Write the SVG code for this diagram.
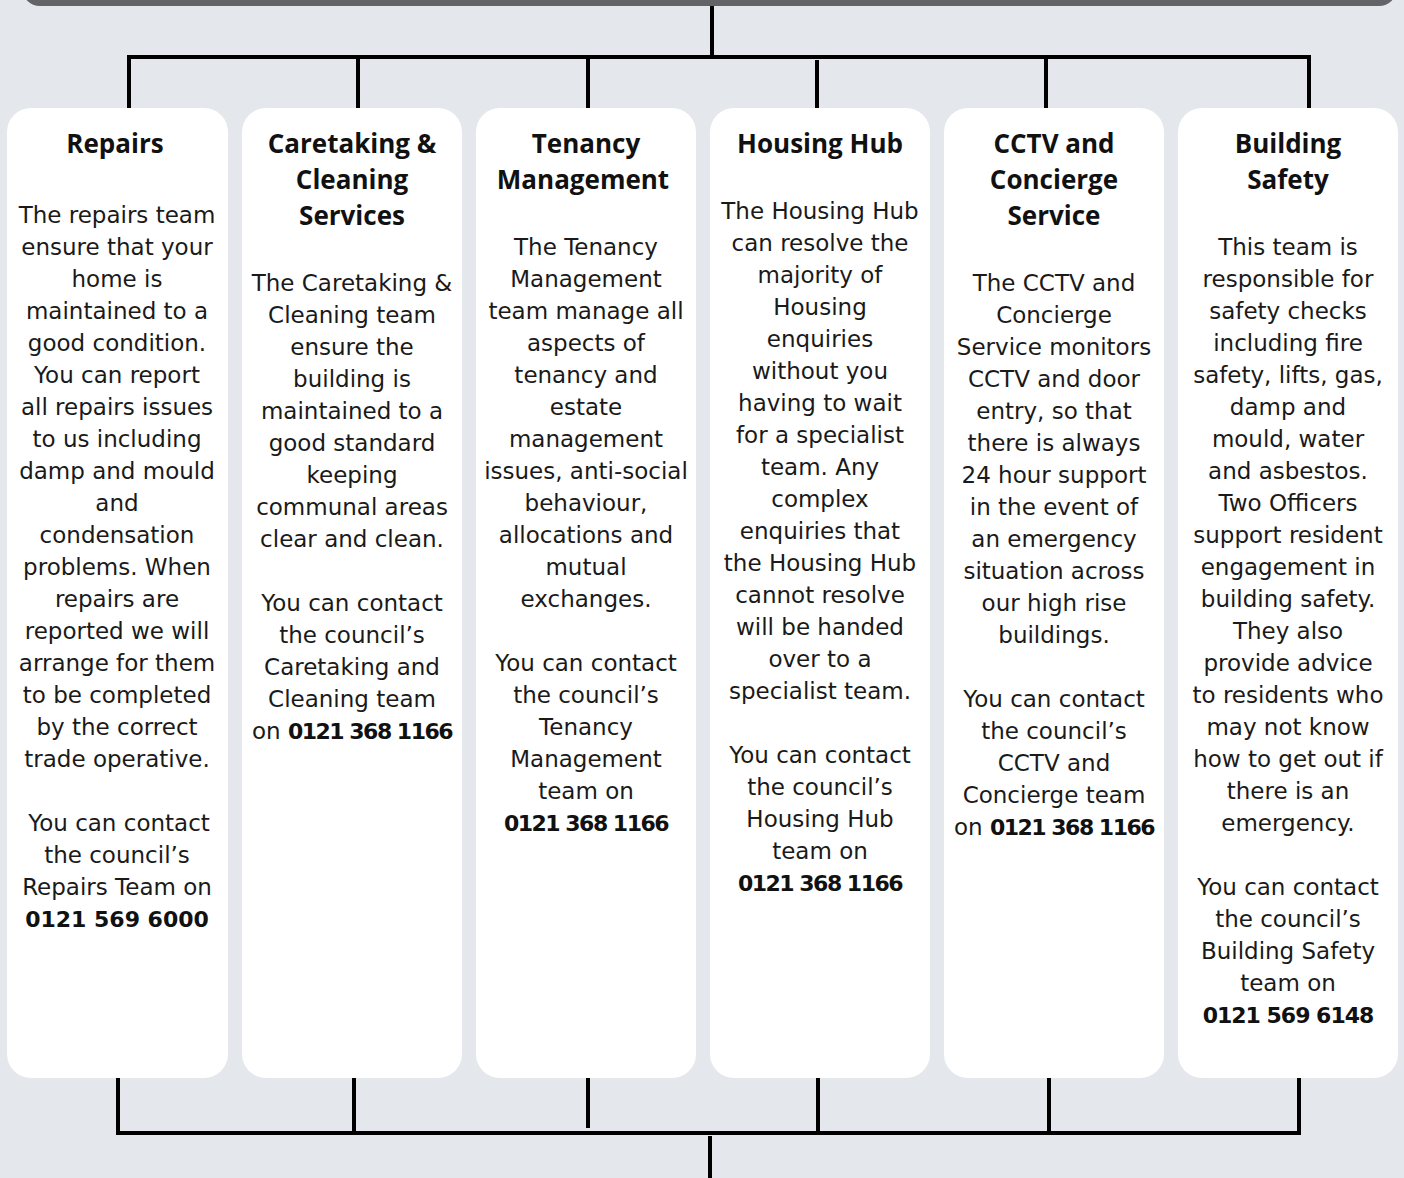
<svg xmlns="http://www.w3.org/2000/svg" width="1404" height="1178" viewBox="0 0 1404 1178">
<style>
.bg{fill:#e4e7eb}
.box{fill:#ffffff}
.bar{fill:#636368}
.ln{stroke:#000;stroke-width:4;fill:none}
.t{font-family:"Open Sans","DejaVu Sans",sans-serif;font-weight:bold;font-size:26px;fill:#111;text-anchor:middle}
.b{font-family:"DejaVu Sans","Liberation Sans",sans-serif;font-size:23px;fill:#1a1a1a;text-anchor:middle}
.n{font-weight:bold;fill:#111;font-size:22px}
.k{letter-spacing:-1.5px}
</style>
<rect class="bg" x="0" y="0" width="1404" height="1178"/>
<rect class="bar" x="22" y="-40" width="1375" height="46" rx="18"/>
<g id="connectors">
<path class="ln" d="M712 6V57M127 57H1311M129 57V108M358 57V108M588 57V108M817 60V108M1046 57V108M1309 57V108"/>
<path class="ln" d="M118 1078V1135M354 1078V1133M588 1078V1128M818 1078V1133M1049 1078V1133M1299 1078V1135M116 1133H1301M710 1136V1178"/>
</g>
<g id="repairs">
<rect class="box" x="7" y="108" width="221" height="970" rx="24"/>
<text class="t" x="115" y="153">Repairs</text>
<text class="b" x="117" y="223"><tspan x="117">The repairs team</tspan><tspan x="117" dy="32">ensure that your</tspan><tspan x="117" dy="32">home is</tspan><tspan x="117" dy="32">maintained to a</tspan><tspan x="117" dy="32">good condition.</tspan><tspan x="117" dy="32">You can report</tspan><tspan x="117" dy="32">all repairs issues</tspan><tspan x="117" dy="32">to us including</tspan><tspan x="117" dy="32">damp and mould</tspan><tspan x="117" dy="32">and</tspan><tspan x="117" dy="32">condensation</tspan><tspan x="117" dy="32">problems. When</tspan><tspan x="117" dy="32">repairs are</tspan><tspan x="117" dy="32">reported we will</tspan><tspan x="117" dy="32">arrange for them</tspan><tspan x="117" dy="32">to be completed</tspan><tspan x="117" dy="32">by the correct</tspan><tspan x="117" dy="32">trade operative.</tspan><tspan x="119" dy="64">You can contact</tspan><tspan x="117" dy="32">the council’s</tspan><tspan x="117" dy="32">Repairs Team on</tspan><tspan x="117" dy="32" class="n">0121 569 6000</tspan></text>
</g>
<g id="caretaking">
<rect class="box" x="242" y="108" width="220" height="970" rx="24"/>
<text class="t" x="352" y="153"><tspan x="352">Caretaking &amp;</tspan><tspan x="352" dy="36">Cleaning</tspan><tspan x="352" dy="36">Services</tspan></text>
<text class="b" x="352" y="291"><tspan x="352">The Caretaking &amp;</tspan><tspan x="352" dy="32">Cleaning team</tspan><tspan x="352" dy="32">ensure the</tspan><tspan x="352" dy="32">building is</tspan><tspan x="352" dy="32">maintained to a</tspan><tspan x="352" dy="32">good standard</tspan><tspan x="352" dy="32">keeping</tspan><tspan x="352" dy="32">communal areas</tspan><tspan x="352" dy="32">clear and clean.</tspan><tspan x="352" dy="64">You can contact</tspan><tspan x="352" dy="32">the council’s</tspan><tspan x="352" dy="32">Caretaking and</tspan><tspan x="352" dy="32">Cleaning team</tspan><tspan x="352" dy="32">on <tspan class="n k">0121 368 1166</tspan></tspan></text>
</g>
<g id="tenancy">
<rect class="box" x="476" y="108" width="220" height="970" rx="24"/>
<text class="t" x="586" y="153"><tspan x="586">Tenancy</tspan><tspan x="583" dy="36">Management</tspan></text>
<text class="b" x="586" y="255"><tspan x="586">The Tenancy</tspan><tspan x="586" dy="32">Management</tspan><tspan x="586" dy="32">team manage all</tspan><tspan x="586" dy="32">aspects of</tspan><tspan x="586" dy="32">tenancy and</tspan><tspan x="586" dy="32">estate</tspan><tspan x="586" dy="32">management</tspan><tspan x="586" dy="32">issues, anti-social</tspan><tspan x="586" dy="32">behaviour,</tspan><tspan x="586" dy="32">allocations and</tspan><tspan x="586" dy="32">mutual</tspan><tspan x="586" dy="32">exchanges.</tspan><tspan x="586" dy="64">You can contact</tspan><tspan x="586" dy="32">the council’s</tspan><tspan x="586" dy="32">Tenancy</tspan><tspan x="586" dy="32">Management</tspan><tspan x="586" dy="32">team on</tspan><tspan x="586" dy="32" class="n k">0121 368 1166</tspan></text>
</g>
<g id="housing-hub">
<rect class="box" x="710" y="108" width="220" height="970" rx="24"/>
<text class="t" x="820" y="153">Housing Hub</text>
<text class="b" x="820" y="219"><tspan x="820">The Housing Hub</tspan><tspan x="820" dy="32">can resolve the</tspan><tspan x="820" dy="32">majority of</tspan><tspan x="820" dy="32">Housing</tspan><tspan x="820" dy="32">enquiries</tspan><tspan x="820" dy="32">without you</tspan><tspan x="820" dy="32">having to wait</tspan><tspan x="820" dy="32">for a specialist</tspan><tspan x="820" dy="32">team. Any</tspan><tspan x="820" dy="32">complex</tspan><tspan x="820" dy="32">enquiries that</tspan><tspan x="820" dy="32">the Housing Hub</tspan><tspan x="820" dy="32">cannot resolve</tspan><tspan x="820" dy="32">will be handed</tspan><tspan x="820" dy="32">over to a</tspan><tspan x="820" dy="32">specialist team.</tspan><tspan x="820" dy="64">You can contact</tspan><tspan x="820" dy="32">the council’s</tspan><tspan x="820" dy="32">Housing Hub</tspan><tspan x="820" dy="32">team on</tspan><tspan x="820" dy="32" class="n k">0121 368 1166</tspan></text>
</g>
<g id="cctv">
<rect class="box" x="944" y="108" width="220" height="970" rx="24"/>
<text class="t" x="1054" y="153"><tspan x="1054">CCTV and</tspan><tspan x="1054" dy="36">Concierge</tspan><tspan x="1054" dy="36">Service</tspan></text>
<text class="b" x="1054" y="291"><tspan x="1054">The CCTV and</tspan><tspan x="1054" dy="32">Concierge</tspan><tspan x="1054" dy="32">Service monitors</tspan><tspan x="1054" dy="32">CCTV and door</tspan><tspan x="1054" dy="32">entry, so that</tspan><tspan x="1054" dy="32">there is always</tspan><tspan x="1054" dy="32">24 hour support</tspan><tspan x="1054" dy="32">in the event of</tspan><tspan x="1054" dy="32">an emergency</tspan><tspan x="1054" dy="32">situation across</tspan><tspan x="1054" dy="32">our high rise</tspan><tspan x="1054" dy="32">buildings.</tspan><tspan x="1054" dy="64">You can contact</tspan><tspan x="1054" dy="32">the council’s</tspan><tspan x="1054" dy="32">CCTV and</tspan><tspan x="1054" dy="32">Concierge team</tspan><tspan x="1054" dy="32">on <tspan class="n k">0121 368 1166</tspan></tspan></text>
</g>
<g id="building-safety">
<rect class="box" x="1178" y="108" width="220" height="970" rx="24"/>
<text class="t" x="1288" y="153"><tspan x="1288">Building</tspan><tspan x="1288" dy="36">Safety</tspan></text>
<text class="b" x="1288" y="255"><tspan x="1288">This team is</tspan><tspan x="1288" dy="32">responsible for</tspan><tspan x="1288" dy="32">safety checks</tspan><tspan x="1288" dy="32">including fire</tspan><tspan x="1288" dy="32">safety, lifts, gas,</tspan><tspan x="1288" dy="32">damp and</tspan><tspan x="1288" dy="32">mould, water</tspan><tspan x="1288" dy="32">and asbestos.</tspan><tspan x="1288" dy="32">Two Officers</tspan><tspan x="1288" dy="32">support resident</tspan><tspan x="1288" dy="32">engagement in</tspan><tspan x="1288" dy="32">building safety.</tspan><tspan x="1288" dy="32">They also</tspan><tspan x="1288" dy="32">provide advice</tspan><tspan x="1288" dy="32">to residents who</tspan><tspan x="1288" dy="32">may not know</tspan><tspan x="1288" dy="32">how to get out if</tspan><tspan x="1288" dy="32">there is an</tspan><tspan x="1288" dy="32">emergency.</tspan><tspan x="1288" dy="64">You can contact</tspan><tspan x="1288" dy="32">the council’s</tspan><tspan x="1288" dy="32">Building Safety</tspan><tspan x="1288" dy="32">team on</tspan><tspan x="1288" dy="32" class="n" letter-spacing="-1">0121 569 6148</tspan></text>
</g>
</svg>
